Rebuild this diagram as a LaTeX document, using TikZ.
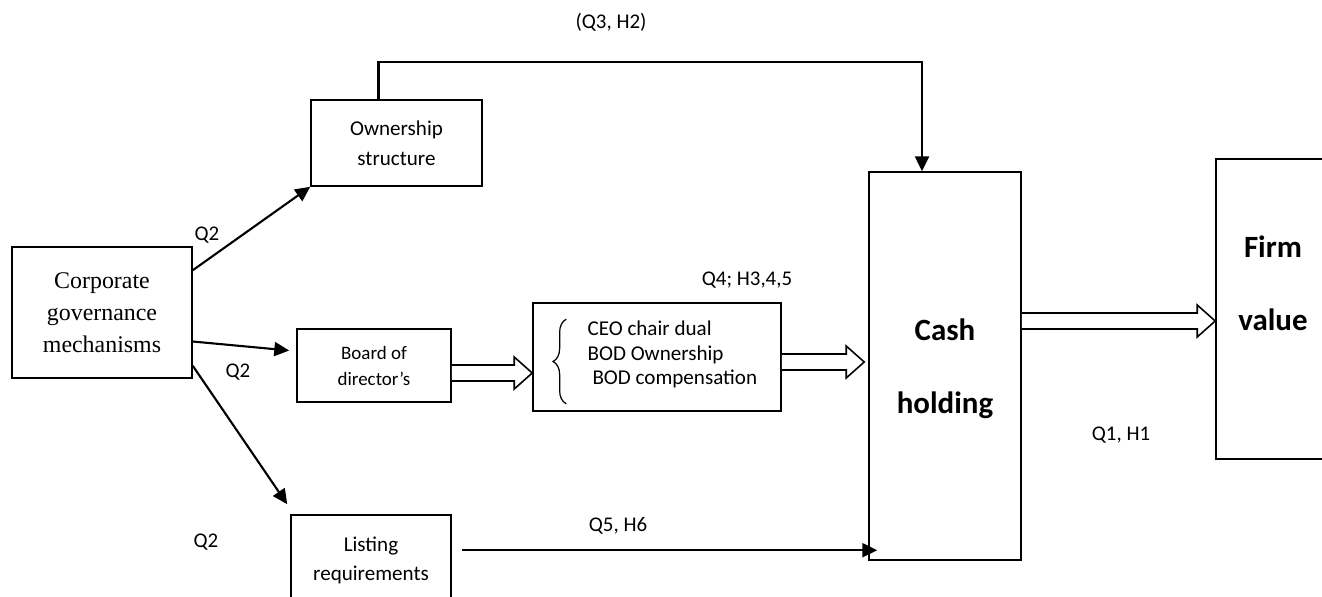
\documentclass[tikz,border=0pt]{standalone}
\usepackage{fontspec}
\setmainfont{Carlito}
\newfontfamily\timesfont{Liberation Serif}
\usetikzlibrary{calc,arrows.meta,decorations.pathreplacing}
\tikzset{box/.style = {draw = black, line width = 0.9pt, inner sep = 0pt, align = center}}
\tikzset{lbl/.style = {inner sep = 0pt, font = \fontsize{11.9}{14}\selectfont}}
\tikzset{arr/.style = {line width = 1.2pt, -{Triangle[length = 8.5pt, width = 8pt]}}}
\tikzset{fat/.style = {draw = black, line width = 0.9pt, fill = white}}
\tikzset{big/.style = {inner sep = 0pt, align = center, font = \fontsize{17.6}{41.5}\selectfont\bfseries}}
\newcommand{\fatarrow}[2]{\draw [fat] ($(#1) + (0 , -8)$) -- ($(#2) + (-18 , -8)$) -- ($(#2) + (-18 , -16)$) -- (#2) -- ($(#2) + (-18 , 16)$) -- ($(#2) + (-18 , 8)$) -- ($(#1) + (0 , 8)$);}

\begin{document}
\begin{tikzpicture}[x = 0.02cm, y = -0.02cm]

  \clip (0 , 0) rectangle (1322 , 596);

  % boxes
  \node [box, minimum width = 3.6cm, minimum height = 2.62cm, font = \timesfont\fontsize{13.6}{18.2}\selectfont] (corp) at (102 , 312.5) {Corporate\\governance\\mechanisms};
  \node [box, minimum width = 3.42cm, minimum height = 1.72cm, font = \fontsize{12}{17}\selectfont] (own) at (396.5 , 143) {Ownership\\structure};
  \node [box, minimum width = 3.08cm, minimum height = 1.46cm, font = \fontsize{10.8}{14.8}\selectfont] (board) at (374 , 365.5) {Board of\\director's};
  \node [box, minimum width = 3.2cm, minimum height = 1.8cm, font = \fontsize{12}{16.5}\selectfont] (listing) at (371 , 560) {Listing\\requirements};
  \node [box, minimum width = 4.96cm, minimum height = 2.16cm] (ceo) at (657 , 357) {};
  \node [box, minimum width = 3.04cm, minimum height = 7.76cm] (cash) at (945 , 366) {};
  \node [box, minimum width = 2.28cm, minimum height = 6cm] (firm) at (1273 , 309) {};

  \node [big] (cashtxt) at ($(cash.center) + (0 , 2.5)$) {Cash\\holding};
  \node [big] (firmtxt) at ($(firm.north) + (0 , 125)$) {Firm\\value};
  \node [inner sep = 0pt, anchor = west, align = left, font = \fontsize{12}{13.9}\selectfont] (ceotxt) at ($(ceo.west) + (55 , -2.5)$) {CEO chair dual\\BOD Ownership\\\hspace*{2.8pt}BOD compensation};
  \draw [line width = 0.7pt, decorate, decoration = {brace, amplitude = 7.5pt}] ($(ceo.south west) + (34 , -8)$) -- ($(ceo.north west) + (34 , 17)$);

  % thin arrows
  \draw [arr] ($(corp.north east) + (0 , 24)$) -- (own.south west);
  \draw [arr] ($(corp.east) + (0 , 29)$) -- ($(board.west) + (-7 , -15)$);
  \draw [arr] ($(corp.south east) + (0 , -13)$) -- ($(listing.north west) + (-3 , -10)$);
  \draw [arr] ($(own.north) + (-18 , 0)$) -- ++(0 , -37) -| ($(cash.north) + (-23 , 0)$);
  \coordinate (lst) at ($(listing.north east) + (10 , 36)$);
  \draw [arr] (lst) -- ($(lst -| cash.west) + (9 , 0)$);

  % hollow arrows
  \coordinate (b1s) at ($(board.east) + (0 , 7.5)$);
  \coordinate (b1e) at (b1s -| ceo.west);
  \fatarrow{b1s}{b1e}
  \coordinate (b2s) at ($(ceo.east) + (0 , 5)$);
  \coordinate (b2e) at ($(b2s -| cash.west) + (-4 , 0)$);
  \fatarrow{b2s}{b2e}
  \coordinate (b3s) at ($(cash.east) + (0 , -45)$);
  \coordinate (b3e) at (b3s -| firm.west);
  \fatarrow{b3s}{b3e}

  % labels
  \node [lbl] (q3) at (611 , 22) {(Q3, H2)};
  \node [lbl] (q2a) at (207 , 235) {Q2};
  \node [lbl] (q2b) at (238 , 372) {Q2};
  \node [lbl] (q2c) at (206 , 542) {Q2};
  \node [lbl] (q4) at (747 , 280) {Q4; H3,4,5};
  \node [lbl] (q5) at (618 , 526) {Q5, H6};
  \node [lbl] (q1) at (1121 , 435) {Q1, H1};

\end{tikzpicture}
\end{document}
